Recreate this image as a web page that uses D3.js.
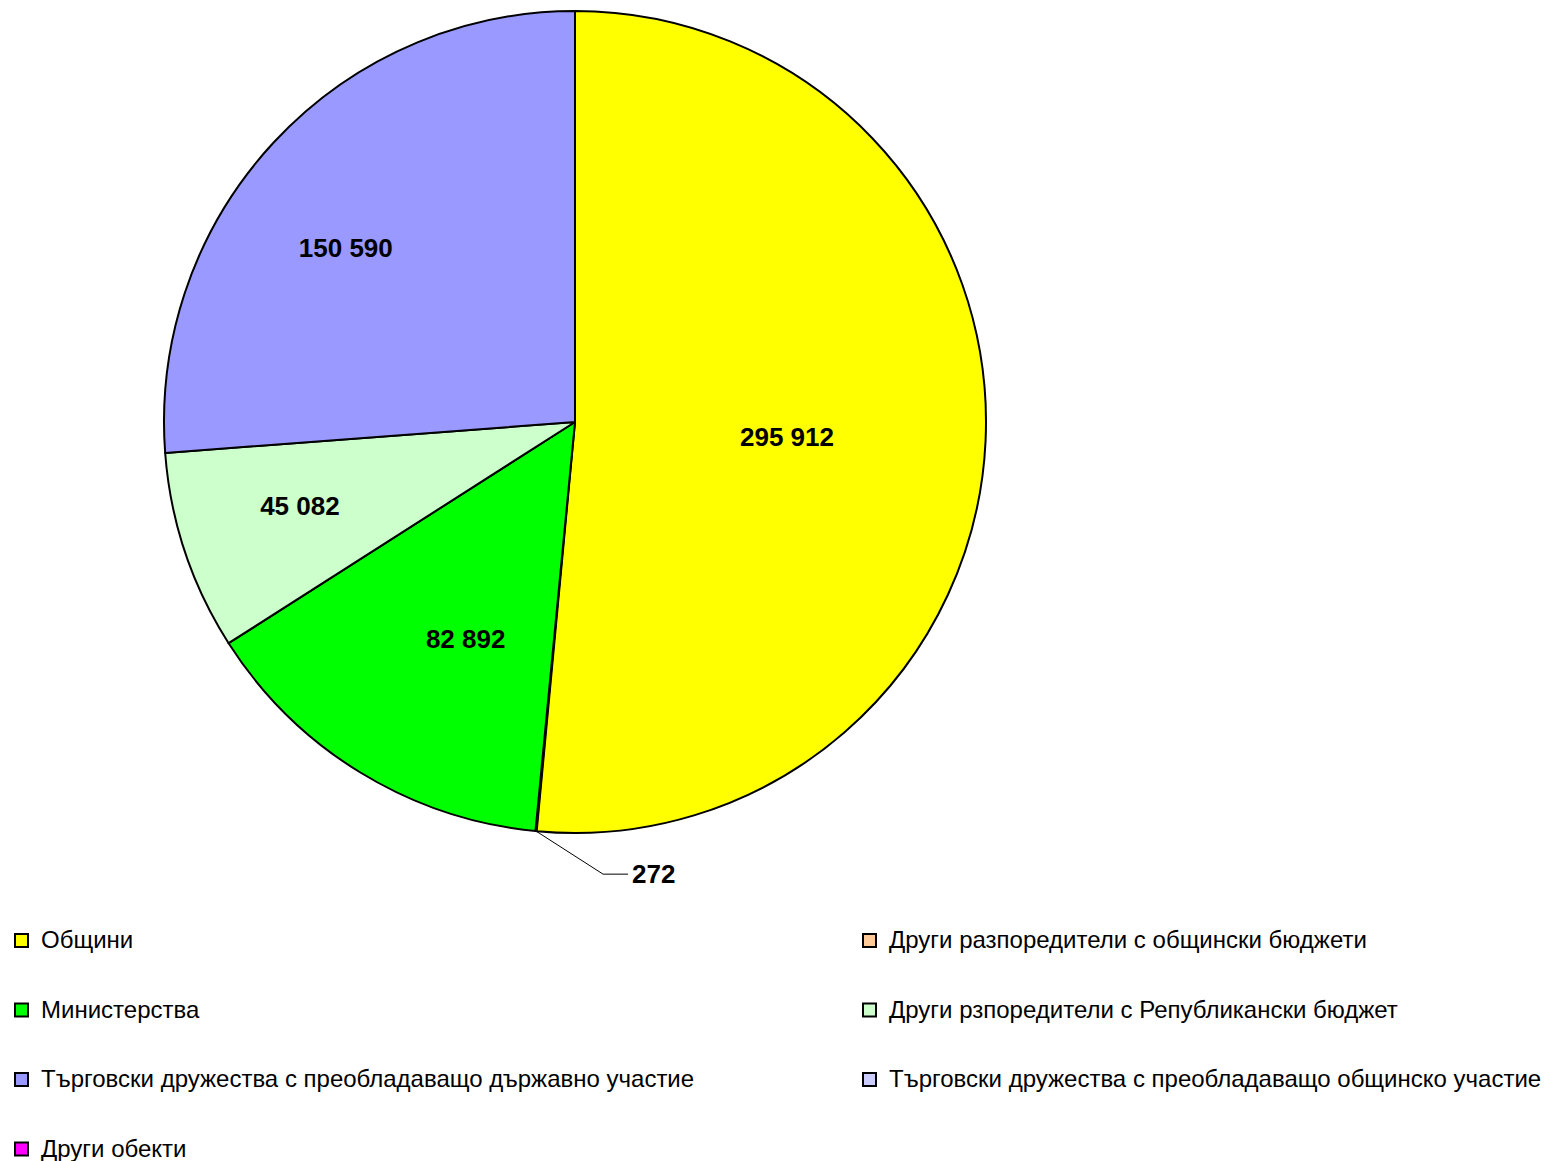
<!DOCTYPE html>
<html>
<head>
<meta charset="utf-8">
<script src="https://cdn.jsdelivr.net/npm/d3@7"></script>
<style>
  body { margin: 0; background: #fff; }
  svg text { font-family: "Liberation Sans", Arial, sans-serif; }
</style>
</head>
<body>
<div class="pie"></div>
<script>
// data
const categories = [
    "Общини",
    "Други разпоредители с общински бюджети",
    "Министерства",
    "Други рзпоредители с Републикански бюджет",
    "Търговски дружества с преобладаващо държавно участие",
    "Търговски дружества с преобладаващо общинско участие",
    "Други обекти"
];
const values = [295912, 272, 82892, 45082, 150590, 0, 0];
const labels = ["295 912", "272", "82 892", "45 082", "150 590", "", ""];
const colors = ["#FFFF00", "#FFCC99", "#00FF00", "#CCFFCC", "#9999FF", "#CCCCFF", "#FF00FF"];

// label placement: share of radius, and position across the slice (0..1)
const labelR = [0.517, 1, 0.59, 0.70, 0.70, 0.7, 0.7];
const labelA = [0.507, 0.5, 0.41, 0.55, 0.44, 0.5, 0.5];

const width = 1550, height = 1161;
const cx = 575, cy = 422, radius = 411;

const data = categories.map((c, i) => ({name: c, value: values[i], label: labels[i], color: colors[i], i: i}));

const svg = d3.select(".pie")
    .append("svg")
    .attr("width", width)
    .attr("height", height);

const g = svg.append("g")
    .attr("transform", `translate(${cx},${cy})`);

const pie = d3.pie()
    .sort(null)
    .value(d => d.value);

const arcs = pie(data).filter(d => d.data.value > 0);

const arc = d3.arc()
    .innerRadius(0)
    .outerRadius(radius);

g.selectAll("path")
    .data(arcs)
    .enter()
    .append("path")
    .attr("d", arc)
    .attr("fill", d => d.data.color)
    .attr("stroke", "black")
    .attr("stroke-width", d => d.data.i === 1 ? 1 : 2)
    .attr("stroke-linejoin", "round");

// labels inside the slices
g.selectAll("text.inner")
    .data(arcs.filter(d => d.data.i !== 1))
    .enter()
    .append("text")
    .attr("class", "inner")
    .attr("transform", d => {
        const r = radius * labelR[d.data.i];
        const a = d.startAngle + (d.endAngle - d.startAngle) * labelA[d.data.i];
        return `translate(${r * Math.sin(a)},${-r * Math.cos(a)})`;
    })
    .attr("text-anchor", "middle")
    .attr("dy", "0.35em")
    .attr("font-size", 26)
    .attr("font-weight", "bold")
    .text(d => d.data.label);

// small slice with leader line
const small = arcs.find(d => d.data.i === 1);
const ma = (small.startAngle + small.endAngle) / 2;
const p0 = [radius * Math.sin(ma), -radius * Math.cos(ma)];
const p1 = [p0[0] + 67, p0[1] + 43];
const p2 = [p1[0] + 25, p1[1]];

g.append("polyline")
    .attr("points", [p0, p1, p2].map(p => p.join(",")).join(" "))
    .attr("fill", "none")
    .attr("stroke", "black")
    .attr("stroke-width", 1);

g.append("text")
    .attr("x", p2[0] + 4)
    .attr("y", p2[1])
    .attr("dy", "0.35em")
    .attr("font-size", 26)
    .attr("font-weight", "bold")
    .text(small.data.label);

// legend
const legend = svg.append("g");
const item = legend.selectAll("g")
    .data(data)
    .enter()
    .append("g")
    .attr("transform", (d, i) => `translate(${i % 2 === 0 ? 15 : 863},${940 + Math.floor(i / 2) * 69.5})`);

item.append("rect")
    .attr("x", 0)
    .attr("y", -6)
    .attr("width", 13)
    .attr("height", 13)
    .attr("fill", d => d.color)
    .attr("stroke", "black")
    .attr("stroke-width", 2);

item.append("text")
    .attr("x", 26)
    .attr("y", 0)
    .attr("dy", "0.35em")
    .attr("font-size", 24)
    .attr("fill", "#000")
    .text(d => d.name);
</script>
</body>
</html>
